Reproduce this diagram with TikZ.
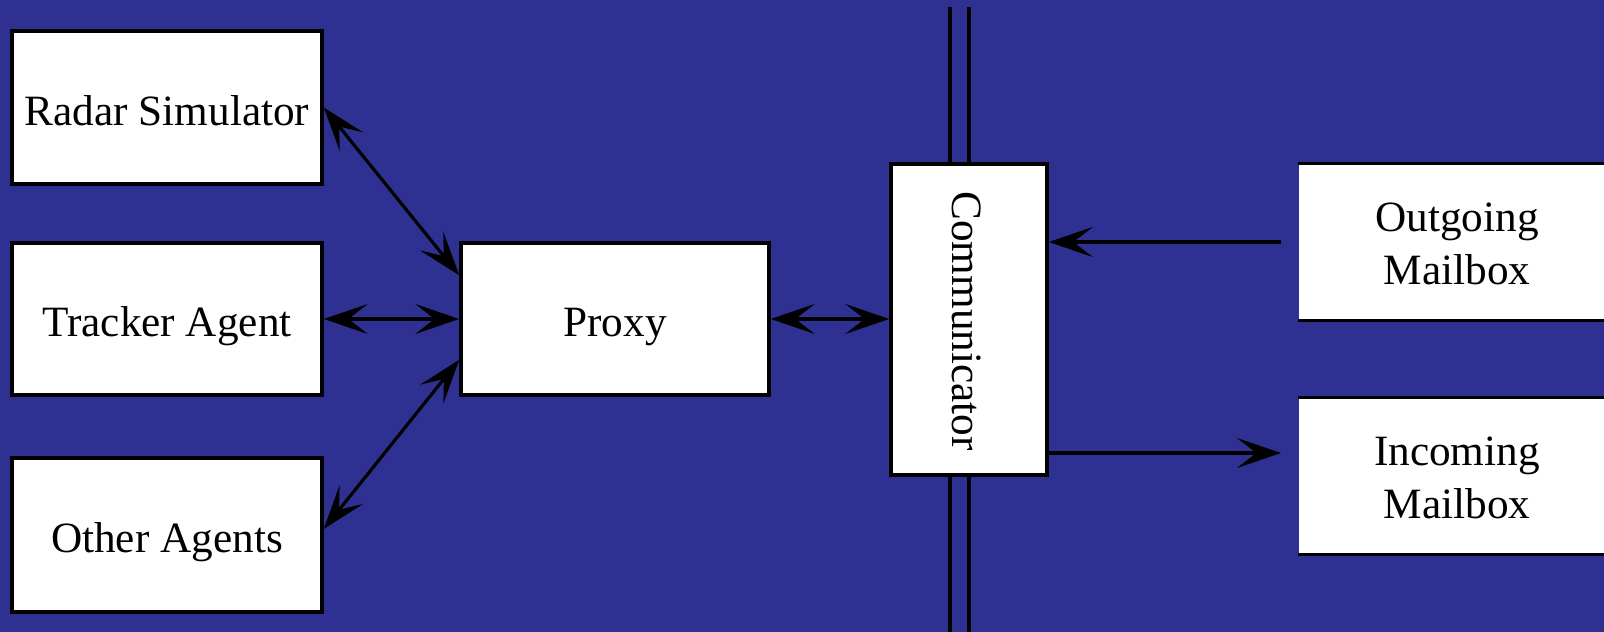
\documentclass[tikz,border=0pt]{standalone}
\usepackage{fontspec}
\setmainfont{Liberation Serif}
\usetikzlibrary{arrows.meta,calc}
\definecolor{bgblue}{RGB}{46,49,146}
\tikzset{
  box/.style={draw=black, line width=1pt, fill=white, inner sep=0pt,
    align=center, text height=13pt, text depth=3pt,
    font=\fontsize{12.3}{15}\selectfont},
  conn/.style={line width=0.9pt},
  >={Stealth[length=12.5pt,width=8.5pt,inset=5.5pt]},
}
\begin{document}
\begin{tikzpicture}[x=1cm,y=1cm]
  % background
  \fill[bgblue] (0,0) rectangle (16.04,6.32);
  \useasboundingbox (0,0) rectangle (16.04,6.32);

  % network bus (double vertical line)
  \draw[line width=1pt] (9.50,6.25) -- (9.50,-0.1);
  \draw[line width=1pt] (9.69,6.25) -- (9.69,-0.1);

  % left-hand components
  \node[box, minimum width=3.10cm, minimum height=1.53cm] (radar)   at (1.67,5.245) {Radar Simulator};
  \node[box, minimum width=3.10cm, minimum height=1.52cm] (tracker) at (1.67,3.13)  {Tracker Agent};
  \node[box, minimum width=3.10cm, minimum height=1.54cm] (other)   at (1.67,0.97)  {Other Agents};

  % proxy and communicator
  \node[box, minimum width=3.08cm, minimum height=1.52cm] (proxy) at (6.15,3.13) {Proxy};
  \node[draw=black, line width=1pt, fill=white, minimum width=1.56cm, minimum height=3.11cm] (comm)  at (9.69,3.125) {};
  \node[font=\fontsize{12.3}{15}\selectfont, rotate=-90] (commtext) at (9.67,3.11) {Communicator};

  % mailboxes running off the right edge
  \node[fill=white, inner sep=0pt, minimum width=3.20cm, minimum height=1.56cm, anchor=west] (outbox) at (12.98,3.90) {};
  \node[fill=white, inner sep=0pt, minimum width=3.20cm, minimum height=1.56cm, anchor=west] (inbox)  at (12.98,1.56) {};
  \draw[line width=1pt] (outbox.north west) -- (outbox.north east)
                        (outbox.south west) -- (outbox.south east);
  \draw[line width=1pt] (inbox.north west) -- (inbox.north east)
                        (inbox.south west) -- (inbox.south east);
  \node[font=\fontsize{12.3}{15}\selectfont, align=center] (outtext) at (14.57,3.88) {Outgoing\\Mailbox};
  \node[font=\fontsize{12.3}{15}\selectfont, align=center] (intext)  at (14.57,1.54) {Incoming\\Mailbox};

  % connectors
  \coordinate (pin1) at ($(proxy.north west)+(0,-0.34)$);
  \coordinate (pin3) at ($(proxy.south west)+(0,0.37)$);
  \draw[conn, <->] (radar.east) -- (pin1);
  \draw[conn, <->] (tracker.east) -- (proxy.west);
  \draw[conn, <->] ($(other.east)+(0,0.06)$) -- (pin3);
  \draw[conn, <->] (proxy.east) -- (proxy.east -| comm.west);

  \coordinate (outfrom) at ($(outbox.west)+(-0.17,0)$);
  \draw[conn, ->] (outfrom) -- (outfrom -| comm.east);
  \coordinate (into) at ($(inbox.west)+(-0.17,0.23)$);
  \draw[conn, ->] (into -| comm.east) -- (into);
\end{tikzpicture}
\end{document}
